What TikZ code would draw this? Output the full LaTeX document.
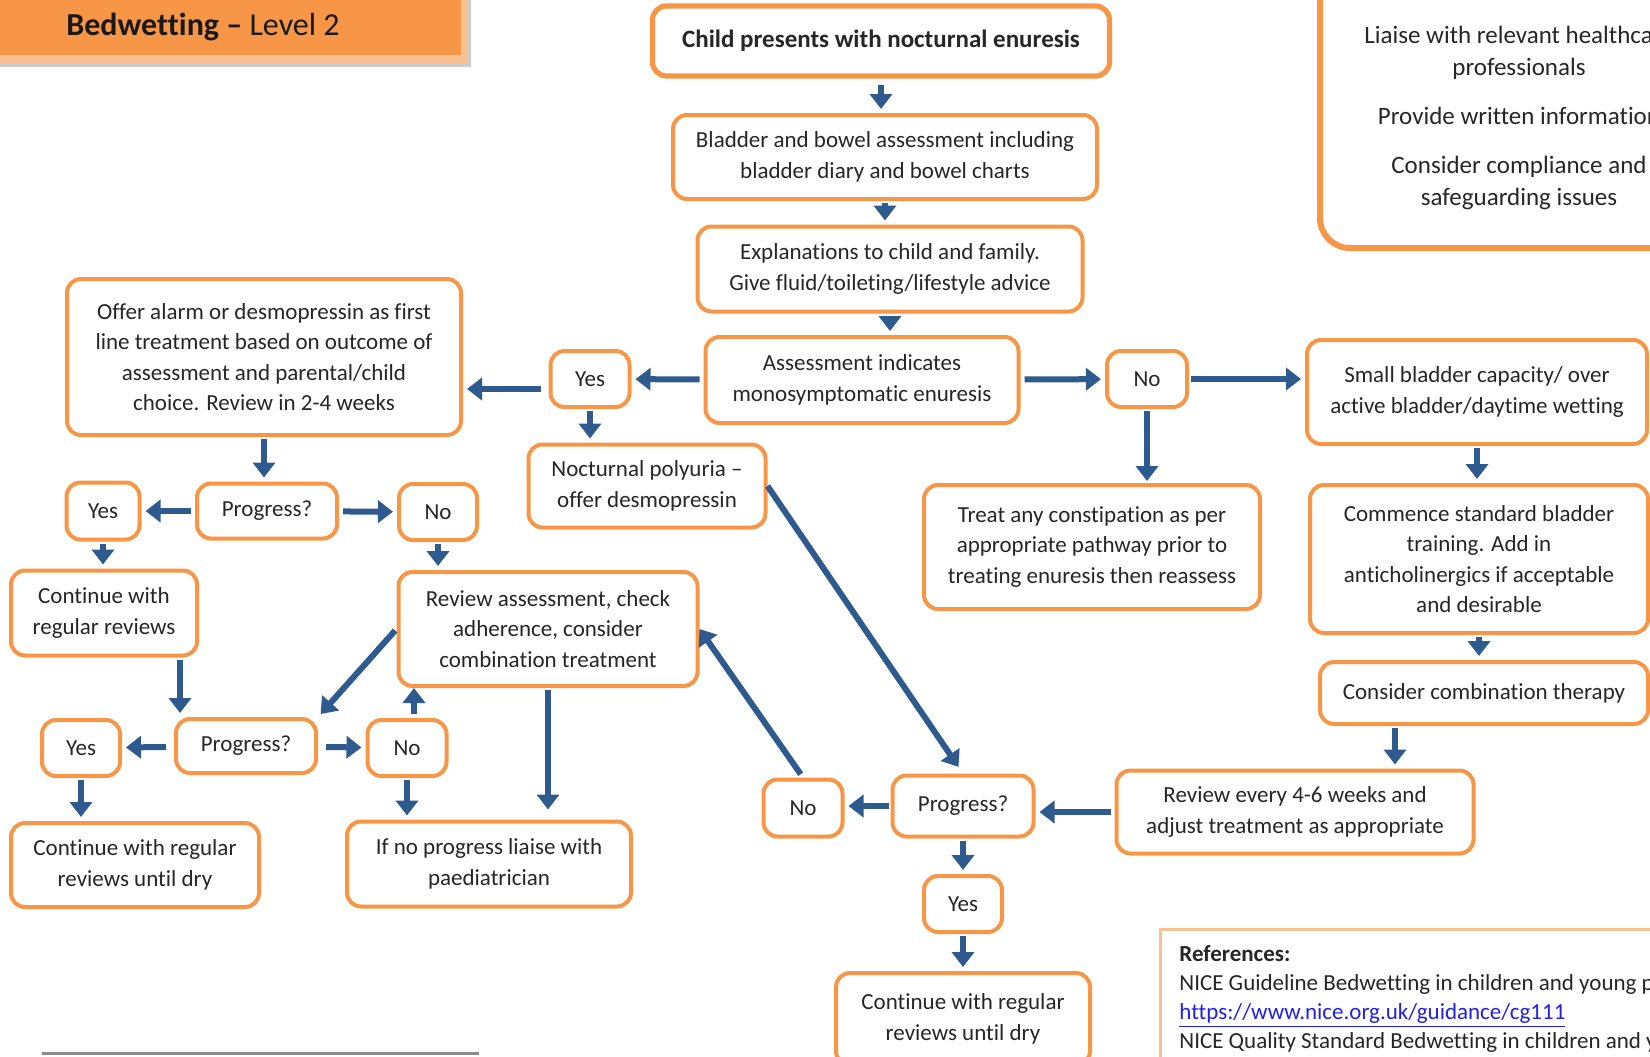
\documentclass[tikz,border=0pt]{standalone}
\usepackage{fontspec}
\setmainfont[Ligatures=NoCommon]{Carlito}
\usetikzlibrary{arrows.meta}
\definecolor{boxorange}{HTML}{F79646}
\definecolor{lightorange}{HTML}{FAC090}
\definecolor{flowblue}{HTML}{2F5A8E}
\definecolor{linkblue}{HTML}{2020E8}

\begin{document}
\begin{tikzpicture}[x=0.5pt,y=-0.5pt,
    sz/.style 2 args={minimum width=#1*0.5pt, minimum height=#2*0.5pt}]
  \tikzstyle{box} = [draw=boxorange, line width=2pt, rounded corners=7pt, fill=white,
    align=center, inner sep=0pt, text=black!85, font=\fontsize{11.5}{15.3}\selectfont]
  \tikzstyle{flow} = [draw=flowblue, line width=3pt, -{Triangle[width=11pt,length=7.5pt]},
    shorten <=1pt, shorten >=2pt]
  \useasboundingbox (0,0) rectangle (1650,1056);
  \clip (0,0) rectangle (1650,1056);

  % title banner
  \fill[black!20] (-20,-20) rectangle (471,67);
  \fill[lightorange] (-20,-20) rectangle (468,64);
  \fill[boxorange] (-20,-20) rectangle (461,55);
  \node (title) at (203,27) [text=black!90, font=\fontsize{16}{19}\selectfont]
    {\bfseries Bedwetting --\mdseries{} Level 2};

  % side note box
  \draw[boxorange, line width=3pt, rounded corners=15pt] (1320,-40) rectangle (1730,248);
  \node (note) at (1519,118) [text=black!85, align=center, font=\fontsize{12.5}{16.3}\selectfont]
    {Liaise with relevant healthcare\\professionals\\[8pt]Provide written information\\[8pt]
     Consider compliance and\\safeguarding issues};

  % main column
  \node (child) at (881,41) [box, sz={457}{70}, line width=2.6pt, font=\fontsize{12.5}{15}\selectfont]
    {\bfseries Child presents with nocturnal enuresis};
  \node (bladder) at (885,157) [box, sz={424}{84}]
    {Bladder and bowel assessment including\\bladder diary and bowel charts};
  \node (explain) at (890,269) [box, sz={385}{85}]
    {Explanations to child and family.\\Give fluid/toileting/lifestyle advice};
  \node (assess) at (862,380) [box, sz={313}{86}]
    {Assessment indicates\\monosymptomatic enuresis};
  \node (yes1) at (590,379) [box, sz={79}{56}] {Yes};
  \node (no1) at (1147,379) [box, sz={80}{56}] {No};

  % left branch
  \node (offer) at (264,357) [box, sz={394}{156}]
    {Offer alarm or desmopressin as first\\line treatment based on outcome of\\assessment and parental/child\\choice. Review in 2-4 weeks};
  \node (noct) at (647,486) [box, sz={237}{83}] {Nocturnal polyuria --\\offer desmopressin};
  \node (progress1) at (267,511) [box, sz={140}{55}] {Progress?};
  \node (yes2) at (103,511) [box, sz={73}{57}] {Yes};
  \node (no2) at (438,512) [box, sz={78}{56}] {No};
  \node (continue1) at (104,613) [box, sz={186}{85}] {Continue with\\regular reviews};
  \node (review) at (548,629) [box, sz={299}{114}]
    {Review assessment, check\\adherence, consider\\combination treatment};
  \node (progress2) at (246,746) [box, sz={140}{54}] {Progress?};
  \node (yes3) at (81,748) [box, sz={78}{56}] {Yes};
  \node (no3) at (407,748) [box, sz={79}{56}] {No};
  \node (continue2) at (135,865) [box, sz={248}{84}] {Continue with regular\\reviews until dry};
  \node (ifno) at (489,864) [box, sz={284}{85}] {If no progress liaise with\\paediatrician};

  % right branch
  \node (small) at (1477,392) [box, sz={340}{104}]
    {Small bladder capacity/ over\\active bladder/daytime wetting};
  \node (treat) at (1092,547) [box, sz={336}{124}]
    {Treat any constipation as per\\appropriate pathway prior to\\treating enuresis then reassess};
  \node (commence) at (1479,559) [box, sz={338}{148}]
    {Commence standard bladder\\training. Add in\\anticholinergics if acceptable\\and desirable};
  \node (consider) at (1484,693) [box, sz={328}{62}] {Consider combination therapy};
  \node (reviewevery) at (1295,812) [box, sz={357}{83}]
    {Review every 4-6 weeks and\\adjust treatment as appropriate};
  \node (progress3) at (963,806) [box, sz={141}{61}] {Progress?};
  \node (no4) at (803,808) [box, sz={79}{57}] {No};
  \node (yes4) at (963,904) [box, sz={78}{56}] {Yes};
  \node (continue3) at (963,1019) [box, sz={254}{92}] {Continue with regular\\reviews until dry};

  % references
  \draw[lightorange, line width=1.5pt] (1160,929) rectangle (1730,1120);
  \node (refs) at (1179,945) [anchor=north west, align=left, inner sep=0pt, text=black!85,
    font=\fontsize{11.5}{14.6}\selectfont]
    {\bfseries References:\\
     NICE Guideline Bedwetting in children and young people\\
     {\color{linkblue}\underline{https://www.nice.org.uk/guidance/cg111}}\\
     NICE Quality Standard Bedwetting in children and young people};

  % footer rule
  \draw[black!45, line width=1.5pt] (42,1053) -- (479,1053);

  % connectors, main column
  \draw[flow, shorten <=3pt] (child) -- (child |- bladder.north);
  \draw[flow] (bladder) -- (bladder |- explain.north);
  \draw[flow] (explain) -- (explain |- assess.north);
  \draw[flow, shorten <=2pt] (assess) -- (yes1);
  \draw[flow, shorten <=4pt] ([yshift=-5pt]yes1.west) -- ([yshift=-5pt]yes1.west -| offer.east);
  \draw[flow] (yes1) -- (yes1 |- noct.north);
  \draw[flow, shorten <=2pt] (assess) -- (no1);
  \draw[flow] (no1) -- (no1 -| small.west);
  \draw[flow, shorten >=1pt] (no1) -- (no1 |- treat.north);

  % connectors, left branch
  \draw[flow] (offer) -- (offer |- progress1.north);
  \draw[flow, shorten <=2pt] (progress1) -- (yes2);
  \draw[flow, shorten <=2pt] (progress1) -- (no2);
  \draw[flow] (yes2) -- (yes2 |- continue1.north);
  \draw[flow] (no2) -- (no2 |- review.north);
  \draw[flow] (continue1.south -| 180,0) -- (progress2.north -| 180,0);
  \draw[flow] (review.west) -- (progress2.north east);
  \draw[flow, shorten <=4pt] (progress2) -- (yes3);
  \draw[flow, shorten <=4pt] (progress2) -- (no3);
  \draw[flow, shorten <=2pt, shorten >=0pt] (no3.north -| 414,0) -- (review.south -| 414,0);
  \draw[flow] (no3) -- (no3 |- ifno.north);
  \draw[flow, shorten >=5pt] (review) -- (review |- ifno.north);
  \draw[flow] (yes3) -- (yes3 |- continue2.north);

  % connectors, right branch
  \draw[flow] (small) -- (small |- commence.north);
  \draw[flow] (commence) -- (commence |- consider.north);
  \draw[flow] (consider.south -| 1395,0) -- (reviewevery.north -| 1395,0);
  \draw[flow, shorten <=2pt] (reviewevery.west) -- (reviewevery.west -| progress3.east);
  \draw[flow] (progress3.west) -- (progress3.west -| no4.east);
  \draw[flow, shorten <=2pt, shorten >=0pt] (no4.north) -- (review.east);
  \draw[flow, shorten <=0pt, shorten >=4pt] (noct.east) -- (progress3.north);
  \draw[flow] (progress3) -- (yes4);
  \draw[flow] (yes4) -- (yes4 |- continue3.north);
\end{tikzpicture}
\end{document}
